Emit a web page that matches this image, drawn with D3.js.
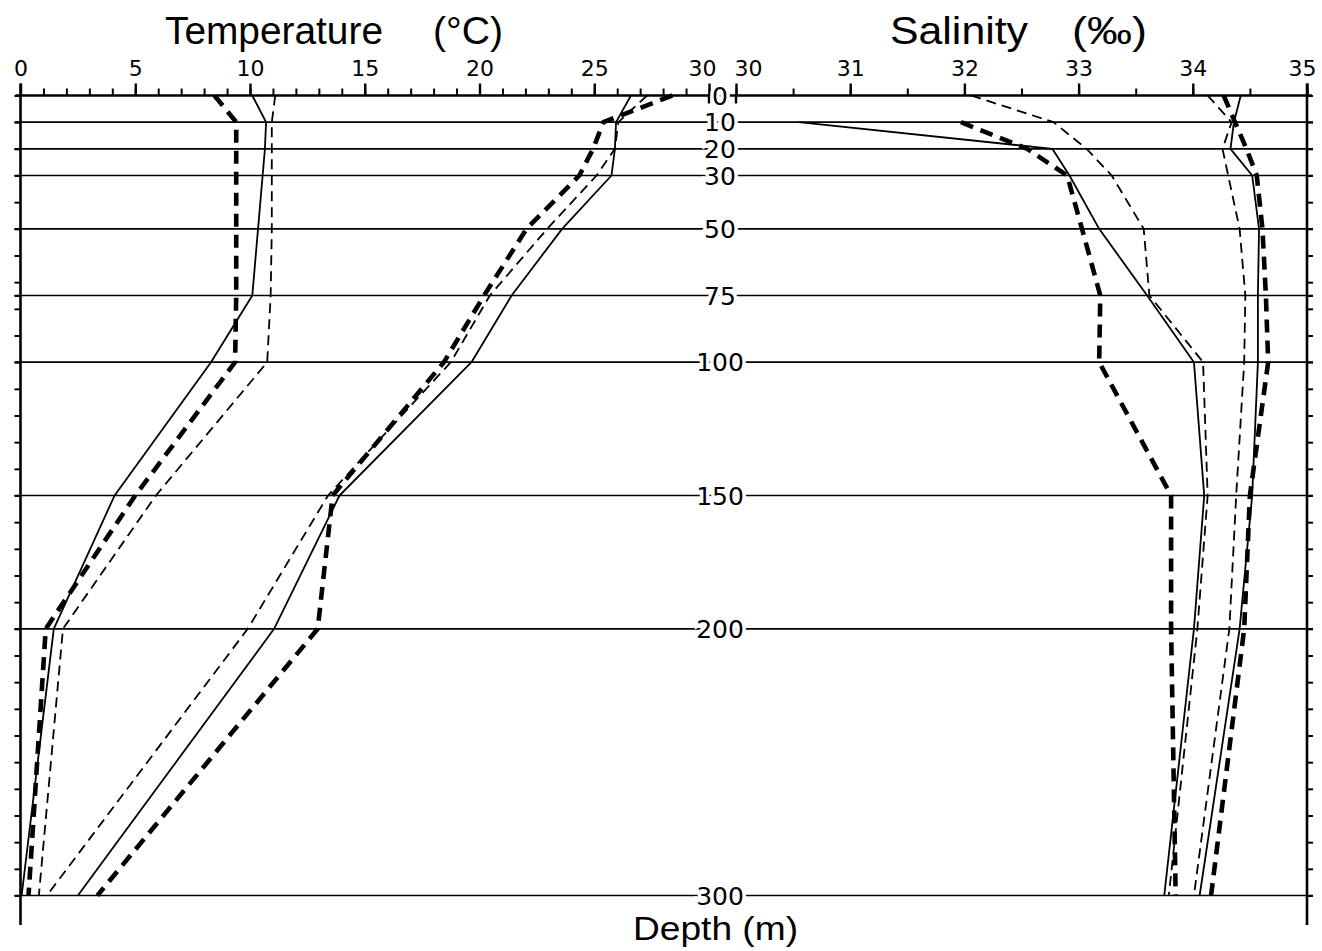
<!DOCTYPE html>
<html><head><meta charset="utf-8">
<script src="https://cdn.jsdelivr.net/npm/d3@7"></script>
<style>body{margin:0;background:#fff} svg{display:block}</style>
</head><body>
<svg id="chart" width="1322" height="951"></svg>
<script>
// ---------- data ----------
const depths = [0, 10, 20, 30, 50, 75, 100, 150, 200, 300];
const depthLabels = [0, 10, 20, 30, 50, 75, 100, 150, 200, 300];
const depthMinorTicks = [0,10,20,30,40,50,60,70,75,80,90,100,110,120,130,140,150,160,170,180,190,200,210,220,230,240,250,260,270,280,290,300];
const tempTicks = [0, 5, 10, 15, 20, 25, 30];
const salTicks = [30, 31, 32, 33, 34, 35];

// Temperature (°C) – warm profiles
const tempWarmSolid     = [26.6, 25.95, 25.9, 25.75, 23.6, 21.4, 19.65, 13.9, 11.05, 2.5];
const tempWarmThinDash  = [27.3, 26.05, 25.9, 25.1, 22.95, 20.45, 18.75, 13.4, 9.9, 1.15];
const tempWarmThickDash = [28.4, 25.4, 24.95, 24.35, 22.05, 20.2, 18.45, 13.6, 12.95, 3.35];
// Temperature (°C) – cold profiles
const tempColdSolid     = [10.1, 10.7, 10.65, 10.55, 10.35, 10.1, 8.3, 4.1, 1.45, 0.05];
const tempColdThinDash  = [11.1, 10.95, 10.95, 10.95, 10.95, 10.9, 10.75, 5.9, 1.85, 0.8];
const tempColdThickDash = [8.45, 9.4, 9.4, 9.4, 9.4, 9.4, 9.35, 5.0, 1.1, 0.35];

// Salinity (‰) – low-salinity profiles
const salLowSolid     = [null, 30.55, 32.77, 32.92, 33.18, 33.6, 34.01, 34.1, 34.01, 33.75];
const salLowThinDash  = [32.06, 32.78, 33.07, 33.29, 33.57, 33.62, 34.09, 34.13, 34.04, 33.79];
const salLowThickDash = [null, 31.97, 32.55, 32.9, 33.03, 33.19, 33.18, 33.81, 33.81, 33.85];
// Salinity (‰) – high-salinity profiles
const salHighSolid     = [34.42, 34.36, 34.33, 34.52, 34.58, 34.57, 34.57, 34.52, 34.41, 34.06];
const salHighThinDash  = [34.13, 34.34, 34.26, 34.31, 34.41, 34.46, 34.45, 34.38, 34.32, 34.01];
const salHighThickDash = [34.27, 34.37, 34.47, 34.56, 34.61, 34.64, 34.66, 34.5, 34.45, 34.16];

// ---------- layout ----------
const svg = d3.select("#chart");
const y  = d3.scaleLinear().domain([0, 300]).range([95.5, 895.5]);
const xT = d3.scaleLinear().domain([0, 30]).range([20.5, 709]);
const xS = d3.scaleLinear().domain([30, 35]).range([736, 1307]);
const xLeft = xT(0), xRight = xS(35);
const numFont = "'DejaVu Sans', sans-serif";
const titleFont = "'Liberation Sans', Arial, sans-serif";

const styles = {
  solid: {w: 1.8, dash: null},
  thin:  {w: 1.8, dash: "10,6"},
  thick: {w: 4.6, dash: "13,8"}
};

// horizontal depth lines
svg.append("g").selectAll("line").data(depthLabels.filter(d => d > 0)).join("line")
  .attr("x1", xLeft - 6).attr("x2", xRight + 6)
  .attr("y1", d => y(d)).attr("y2", d => y(d))
  .attr("stroke", "#000").attr("stroke-width", 1.6);

// top axis line
svg.append("line").attr("x1", xLeft - 5).attr("x2", xRight + 5)
  .attr("y1", y(0)).attr("y2", y(0)).attr("stroke", "#000").attr("stroke-width", 2.6);

// vertical axes
[xLeft, xRight].forEach(x => {
  svg.append("line").attr("x1", x).attr("x2", x).attr("y1", y(0) - 12).attr("y2", 925)
    .attr("stroke", "#000").attr("stroke-width", 2.6);
});

// depth ticks on left / right axes
const gl = svg.append("g").attr("transform", `translate(${xLeft},0)`)
  .call(d3.axisLeft(y).tickValues(depthMinorTicks).tickSize(6).tickFormat(""));
const gr = svg.append("g").attr("transform", `translate(${xRight},0)`)
  .call(d3.axisRight(y).tickValues(depthMinorTicks).tickSize(6).tickFormat(""));
[gl, gr].forEach(g => { g.select(".domain").remove(); g.selectAll("line").attr("stroke-width", 2); });

// top axes
function styleTop(g) {
  g.select(".domain").remove();
  g.selectAll("line").attr("stroke-width", 2.4);
  g.selectAll("text").attr("font-family", numFont).attr("font-size", 22).attr("fill", "#000");
}
const gtMinor = svg.append("g").attr("transform", `translate(0,${y(0)})`)
  .call(d3.axisTop(xT).tickValues(d3.range(0, 31, 1)).tickSize(7).tickFormat(""));
gtMinor.select(".domain").remove(); gtMinor.selectAll("line").attr("stroke-width", 2);
const gt = svg.append("g").attr("transform", `translate(0,${y(0)})`)
  .call(d3.axisTop(xT).tickValues(tempTicks).tickSize(12).tickPadding(8).tickFormat(d3.format("d")));
styleTop(gt);
gt.selectAll(".tick").filter(d => d === 30).select("text").attr("dx", -7);

const gsMinor = svg.append("g").attr("transform", `translate(0,${y(0)})`)
  .call(d3.axisTop(xS).tickValues(d3.range(30, 35.01, 0.5)).tickSize(7).tickFormat(""));
gsMinor.select(".domain").remove(); gsMinor.selectAll("line").attr("stroke-width", 2);
const gs = svg.append("g").attr("transform", `translate(0,${y(0)})`)
  .call(d3.axisTop(xS).tickValues(salTicks).tickSize(12).tickPadding(8).tickFormat(d3.format("d")));
styleTop(gs);
gs.selectAll(".tick").filter(d => d === 30).select("text").attr("dx", 12);
gs.selectAll(".tick").filter(d => d === 35).select("text").attr("dx", -5);
[xT(30), xS(30)].forEach(x => svg.append("line").attr("x1", x).attr("x2", x)
  .attr("y1", y(0)).attr("y2", y(0) + 8).attr("stroke", "#000").attr("stroke-width", 2.4));

// profile lines
const lineT = d3.line().defined(d => d.v != null).x(d => xT(d.v)).y(d => y(d.d));
const lineS = d3.line().defined(d => d.v != null).x(d => xS(d.v)).y(d => y(d.d));
const tempSeries = [
  {v: tempWarmThickDash, s: "thick"}, {v: tempColdThickDash, s: "thick"},
  {v: tempWarmSolid, s: "solid"}, {v: tempColdSolid, s: "solid"},
  {v: tempWarmThinDash, s: "thin"}, {v: tempColdThinDash, s: "thin"}
];
const salSeries = [
  {v: salLowThickDash, s: "thick"}, {v: salHighThickDash, s: "thick"},
  {v: salLowSolid, s: "solid"}, {v: salHighSolid, s: "solid"},
  {v: salLowThinDash, s: "thin"}, {v: salHighThinDash, s: "thin"}
];
function drawSeries(series, gen) {
  svg.append("g").selectAll("path").data(series).join("path")
    .attr("d", s => gen(depths.map((d, i) => ({d, v: s.v[i]}))))
    .attr("fill", "none").attr("stroke", "#000")
    .attr("stroke-width", s => styles[s.s].w)
    .attr("stroke-dasharray", s => styles[s.s].dash)
    .attr("stroke-linejoin", "round");
}
drawSeries(tempSeries, lineT);
drawSeries(salSeries, lineS);

// depth labels
svg.append("g").selectAll("text").data(depthLabels).join("text")
  .attr("x", 720).attr("y", d => y(d) + 9)
  .attr("text-anchor", "middle")
  .attr("font-family", numFont).attr("font-size", 25)
  .attr("stroke", "#fff").attr("stroke-width", 7).attr("paint-order", "stroke")
  .attr("fill", "#000").text(d => d);

// titles
function title(txt, x, yb, len, size) {
  svg.append("text").attr("x", x).attr("y", yb).attr("font-family", titleFont)
    .attr("font-size", size).attr("fill", "#000")
    .attr("textLength", len).attr("lengthAdjust", "spacingAndGlyphs").text(txt);
}
title("Temperature", 165, 44, 218, 38);
title("(°C)", 433, 44, 70, 38);
title("Salinity", 890, 44, 138, 38);
title("(‰)", 1072, 44, 75, 38);
title("Depth (m)", 633, 940, 165, 34);
</script>
</body></html>
